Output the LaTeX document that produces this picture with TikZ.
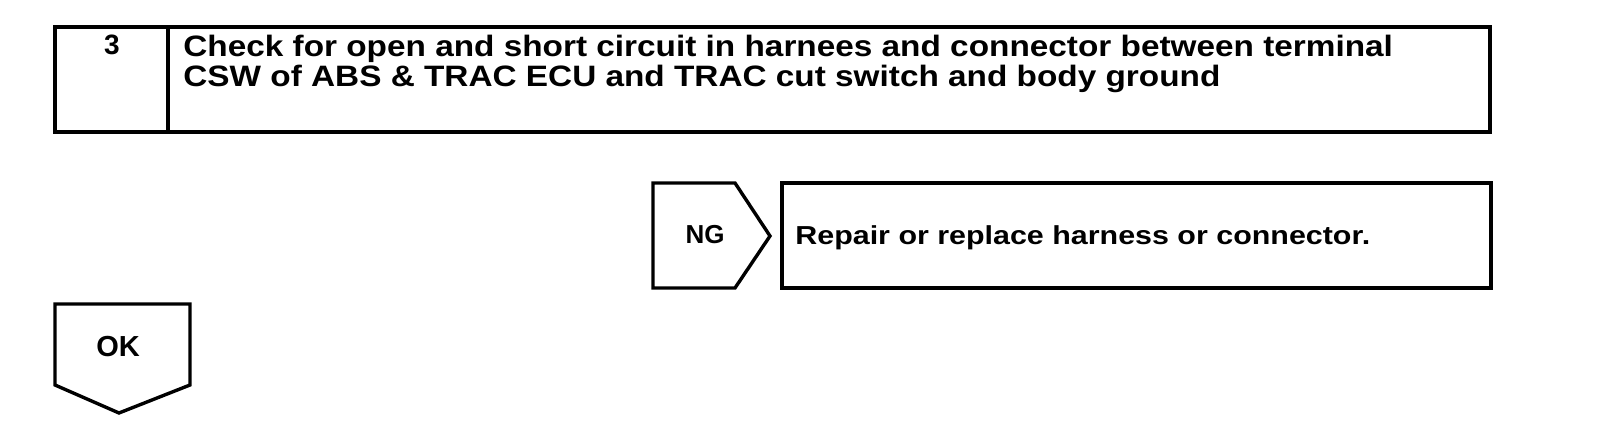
\documentclass[tikz,border=0pt]{standalone}
\usepackage{fontspec}
\setmainfont{Liberation Sans}
\newfontfamily\headfont{Liberation Sans}[FakeStretch=1.13]
\newfontfamily\repairfont{Liberation Sans}[FakeStretch=1.17]
\usepackage{tikz}
\newcommand{\linecolor}{black}
\newcommand{\thickness}{1.7pt}

\begin{document}
\begin{tikzpicture}[x=0.5pt, y=-0.5pt]
\useasboundingbox (0,0) rectangle (1600,426);
\node[inner sep=0, anchor=base] (num) at (112, 55) {\fontsize{14}{16}\selectfont\bfseries 3};
\node[inner sep=0, anchor=base west] (title1) at (183, 57) {\fontsize{14.75}{16}\headfont\bfseries Check for open and short circuit in harnees and connector between terminal};
\node[inner sep=0, anchor=base west] (title2) at (183, 87) {\fontsize{14.75}{16}\headfont\bfseries CSW of ABS \& TRAC ECU and TRAC cut switch and body ground};
\node[inner sep=0, anchor=base] (ng) at (705, 244) {\fontsize{13}{15}\selectfont\bfseries NG};
\node[inner sep=0, anchor=base west] (repair) at (795, 245) {\fontsize{13}{15}\repairfont\bfseries Repair or replace harness or connector.};
\node[inner sep=0, anchor=base] (ok) at (118, 357) {\fontsize{14.5}{16}\selectfont\bfseries OK};
%step box
\draw[\linecolor] [line width = \thickness] (55, 27) rectangle (1490, 132);
\draw[\linecolor] [line width = \thickness] (168, 27) -- (168, 132);
%NG
\draw[\linecolor] [line width = \thickness, line join=miter] (653, 183) -- (735, 183) -- (770, 236) -- (735, 288) -- (653, 288) -- cycle;
\draw[\linecolor] [line width = \thickness] (782, 183) rectangle (1491, 288);
%OK
\draw[\linecolor] [line width = \thickness, line join=miter] (55, 304) -- (190, 304) -- (190, 385) -- (119, 413) -- (55, 385) -- cycle;
\end{tikzpicture}
\end{document}
